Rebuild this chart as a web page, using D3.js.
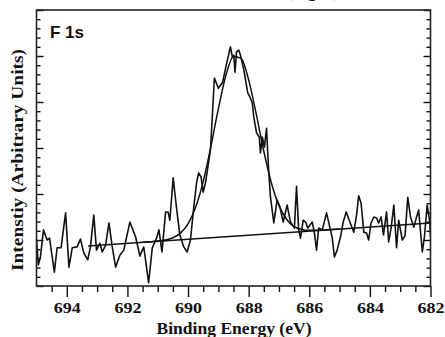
<!DOCTYPE html>
<html>
<head>
<meta charset="utf-8">
<script src="https://cdn.jsdelivr.net/npm/d3@7"></script>
<style>
  html, body { margin: 0; padding: 0; background: #fff; }
  svg { display: block; }
  .tick text { font-family: "Liberation Serif", "Times New Roman", serif; font-weight: bold; }
</style>
</head>
<body>
<div id="chart"></div>
<script>
// measured spectrum, binding energy (eV) and intensity (arb. units)
const energy = [
  695.00, 694.94, 694.87, 694.77, 694.65, 694.57, 694.41, 694.32, 694.19, 694.04,
  693.93, 693.82, 693.66, 693.55, 693.44, 693.31, 693.22, 693.11, 693.02, 692.91,
  692.83, 692.72, 692.61, 692.50, 692.39, 692.25, 692.12, 691.92, 691.73, 691.59,
  691.46, 691.30, 691.18, 691.04, 690.96, 690.86, 690.74, 690.66, 690.60, 690.49,
  690.41, 690.36, 690.27, 690.14, 690.03, 689.92, 689.81, 689.72, 689.65, 689.57,
  689.50, 689.42, 689.31, 689.26, 689.13, 689.00, 688.86, 688.73, 688.60, 688.54,
  688.49, 688.45, 688.40, 688.33, 688.27, 688.16, 688.03, 687.96, 687.88, 687.83,
  687.74, 687.65, 687.61, 687.55, 687.48, 687.41, 687.37, 687.34, 687.28, 687.17,
  687.06, 686.97, 686.86, 686.73, 686.62, 686.49, 686.42, 686.35, 686.29, 686.20,
  686.12, 686.05, 685.90, 685.83, 685.76, 685.69, 685.57, 685.43, 685.36, 685.24,
  685.17, 685.08, 684.97, 684.88, 684.78, 684.66, 684.53, 684.44, 684.37, 684.29,
  684.20, 684.11, 684.04, 683.96, 683.87, 683.78, 683.71, 683.63, 683.55, 683.45,
  683.38, 683.30, 683.21, 683.12, 683.05, 682.93, 682.84, 682.75, 682.66, 682.55,
  682.46, 682.39, 682.27, 682.20, 682.11, 682.02, 682.00
];
const counts = [
  1.02, 0.46, 0.63, 1.22, 1.00, 1.04, 0.30, 0.83, 0.83, 1.59,
  0.41, 0.83, 0.85, 1.02, 0.72, 0.57, 0.85, 1.54, 0.78, 0.93,
  0.74, 0.89, 1.37, 0.85, 0.41, 0.67, 0.78, 1.39, 1.07, 0.65,
  0.85, 0.07, 0.83, 1.04, 1.22, 0.74, 1.61, 1.61, 1.43, 2.35,
  1.87, 1.59, 1.11, 0.85, 0.74, 1.00, 1.72, 2.24, 2.46, 2.37,
  2.04, 2.26, 2.74, 2.96, 4.52, 4.30, 4.43, 4.83, 5.20, 4.98,
  5.02, 4.65, 5.09, 5.13, 5.02, 4.70, 4.20, 4.11, 3.98, 3.67,
  3.33, 3.24, 2.89, 3.24, 3.02, 3.43, 2.89, 2.52, 1.93, 1.37,
  1.87, 1.72, 1.39, 1.76, 1.39, 1.26, 2.17, 1.22, 1.04, 1.43,
  1.39, 1.26, 1.39, 1.15, 0.78, 1.26, 1.22, 1.59, 1.39, 1.04,
  0.63, 0.78, 1.07, 1.39, 1.61, 1.39, 1.17, 1.54, 1.96, 1.80,
  1.17, 1.15, 1.00, 1.37, 1.50, 1.48, 1.37, 1.50, 1.11, 1.61,
  0.96, 1.26, 1.76, 0.83, 1.43, 1.00, 1.09, 1.93, 1.50, 1.28,
  1.50, 1.65, 0.74, 1.07, 1.76, 1.37, 1.07
];

// fitted peak envelope
const fitEnergy = [
  691.50, 691.00, 690.75, 690.50, 690.25, 690.00, 689.75, 689.50, 689.25, 689.00,
  688.75, 688.50, 688.25, 688.00, 687.75, 687.50, 687.25, 687.00, 686.75, 686.50,
  686.25, 686.00, 685.50, 685.00
];
const fitCounts = [
  0.95, 0.98, 1.00, 1.05, 1.15, 1.35, 1.71, 2.27, 3.02, 3.85,
  4.58, 4.99, 4.95, 4.48, 3.74, 2.93, 2.24, 1.75, 1.45, 1.29,
  1.23, 1.21, 1.22, 1.24
];

// linear background
const baseEnergy = [693.3, 682.0];
const baseCounts = [0.87, 1.37];

const xTicks = [694, 692, 690, 688, 686, 684, 682];

const containerWidth = 445;
const containerHeight = 337;
const margin = { top: 10, right: 14.5, bottom: 51, left: 36.5 };
const width = containerWidth - margin.left - margin.right;
const height = containerHeight - margin.top - margin.bottom;
const ink = '#111';
const serif = '"Liberation Serif", "Times New Roman", serif';

const svg = d3.select('#chart')
  .append('svg')
  .attr('width', containerWidth)
  .attr('height', containerHeight)
  .attr('viewBox', `0 0 ${containerWidth} ${containerHeight}`);

// caption of the page above, mostly outside the picture
svg.append('text')
  .attr('x', 287)
  .attr('y', -3)
  .attr('font-family', serif)
  .attr('font-weight', 'bold')
  .attr('font-size', 17)
  .attr('fill', ink)
  .text('(Fig. 2)');

const g = svg.append('g')
  .attr('transform', `translate(${margin.left},${margin.top})`);

const x = d3.scaleLinear().domain([695, 682]).range([0, width]);
const y = d3.scaleLinear().domain([0, 6]).range([height, 0]);

const minorX = d3.range(694.5, 681.9, -0.5).filter(v => Math.abs(v - Math.round(v / 2) * 2) > 0.01);
const minorY = d3.range(0.2, 6, 0.2).filter(v => Math.abs(v - Math.round(v)) > 0.01);

// Bottom axis, ticks outside
g.append('g')
  .attr('class', 'axis axis--x')
  .attr('transform', `translate(0,${height})`)
  .call(d3.axisBottom(x).tickValues(xTicks).tickSize(11).tickSizeOuter(0).tickPadding(5).tickFormat(d3.format('d')))
  .call(a => a.select('.domain').remove())
  .call(a => a.selectAll('.tick text')
    .attr('font-size', 15)
    .attr('fill', ink)
    .attr('textLength', 27)
    .attr('lengthAdjust', 'spacingAndGlyphs'));

g.append('g')
  .attr('transform', `translate(0,${height})`)
  .call(d3.axisBottom(x).tickValues(minorX).tickSize(6).tickSizeOuter(0).tickFormat(''))
  .call(a => a.select('.domain').remove());

// Left and right axes, ticks inside
g.append('g')
  .call(d3.axisRight(y).ticks(6).tickSize(7).tickSizeOuter(0).tickFormat(''))
  .call(a => a.select('.domain').remove());
g.append('g')
  .call(d3.axisRight(y).tickValues(minorY).tickSize(4).tickSizeOuter(0).tickFormat(''))
  .call(a => a.select('.domain').remove());
g.append('g')
  .attr('transform', `translate(${width},0)`)
  .call(d3.axisLeft(y).ticks(6).tickSize(7).tickSizeOuter(0).tickFormat(''))
  .call(a => a.select('.domain').remove());
g.append('g')
  .attr('transform', `translate(${width},0)`)
  .call(d3.axisLeft(y).tickValues(minorY).tickSize(4).tickSizeOuter(0).tickFormat(''))
  .call(a => a.select('.domain').remove());

g.selectAll('.tick line').attr('stroke', ink).attr('stroke-width', 1.4);

g.append('clipPath').attr('id', 'plot-clip')
  .append('rect').attr('width', width).attr('height', height);

const line = d3.line()
  .x(d => x(d[0]))
  .y(d => y(d[1]));

const plot = g.append('g').attr('clip-path', 'url(#plot-clip)');

plot.append('path')
  .datum(d3.zip(baseEnergy, baseCounts))
  .attr('fill', 'none')
  .attr('stroke', ink)
  .attr('stroke-width', 1.5)
  .attr('d', line);

plot.append('path')
  .datum(d3.zip(fitEnergy, fitCounts))
  .attr('fill', 'none')
  .attr('stroke', ink)
  .attr('stroke-width', 1.5)
  .attr('d', line.curve(d3.curveMonotoneX));

line.curve(d3.curveLinear);

plot.append('path')
  .datum(d3.zip(energy, counts))
  .attr('fill', 'none')
  .attr('stroke', ink)
  .attr('stroke-width', 1.6)
  .attr('stroke-linejoin', 'round')
  .attr('d', line);

// frame
g.append('rect')
  .attr('width', width)
  .attr('height', height)
  .attr('fill', 'none')
  .attr('stroke', '#222')
  .attr('stroke-width', 1.6);

g.append('text')
  .attr('x', 13.5)
  .attr('y', 27.5)
  .attr('font-family', '"Liberation Sans", Arial, sans-serif')
  .attr('font-weight', 'bold')
  .attr('font-size', 17)
  .attr('fill', ink)
  .text('F 1s');

svg.append('text')
  .attr('x', 234)
  .attr('y', 334)
  .attr('text-anchor', 'middle')
  .attr('font-family', serif)
  .attr('font-weight', 'bold')
  .attr('font-size', 16.5)
  .attr('fill', ink)
  .attr('textLength', 155)
  .attr('lengthAdjust', 'spacingAndGlyphs')
  .text('Binding Energy (eV)');

svg.append('text')
  .attr('transform', `translate(23,160) rotate(-90)`)
  .attr('text-anchor', 'middle')
  .attr('font-family', serif)
  .attr('font-weight', 'bold')
  .attr('font-size', 16)
  .attr('fill', ink)
  .attr('textLength', 222)
  .attr('lengthAdjust', 'spacingAndGlyphs')
  .text('Intenstiy (Arbitrary Units)');
</script>
</body>
</html>
